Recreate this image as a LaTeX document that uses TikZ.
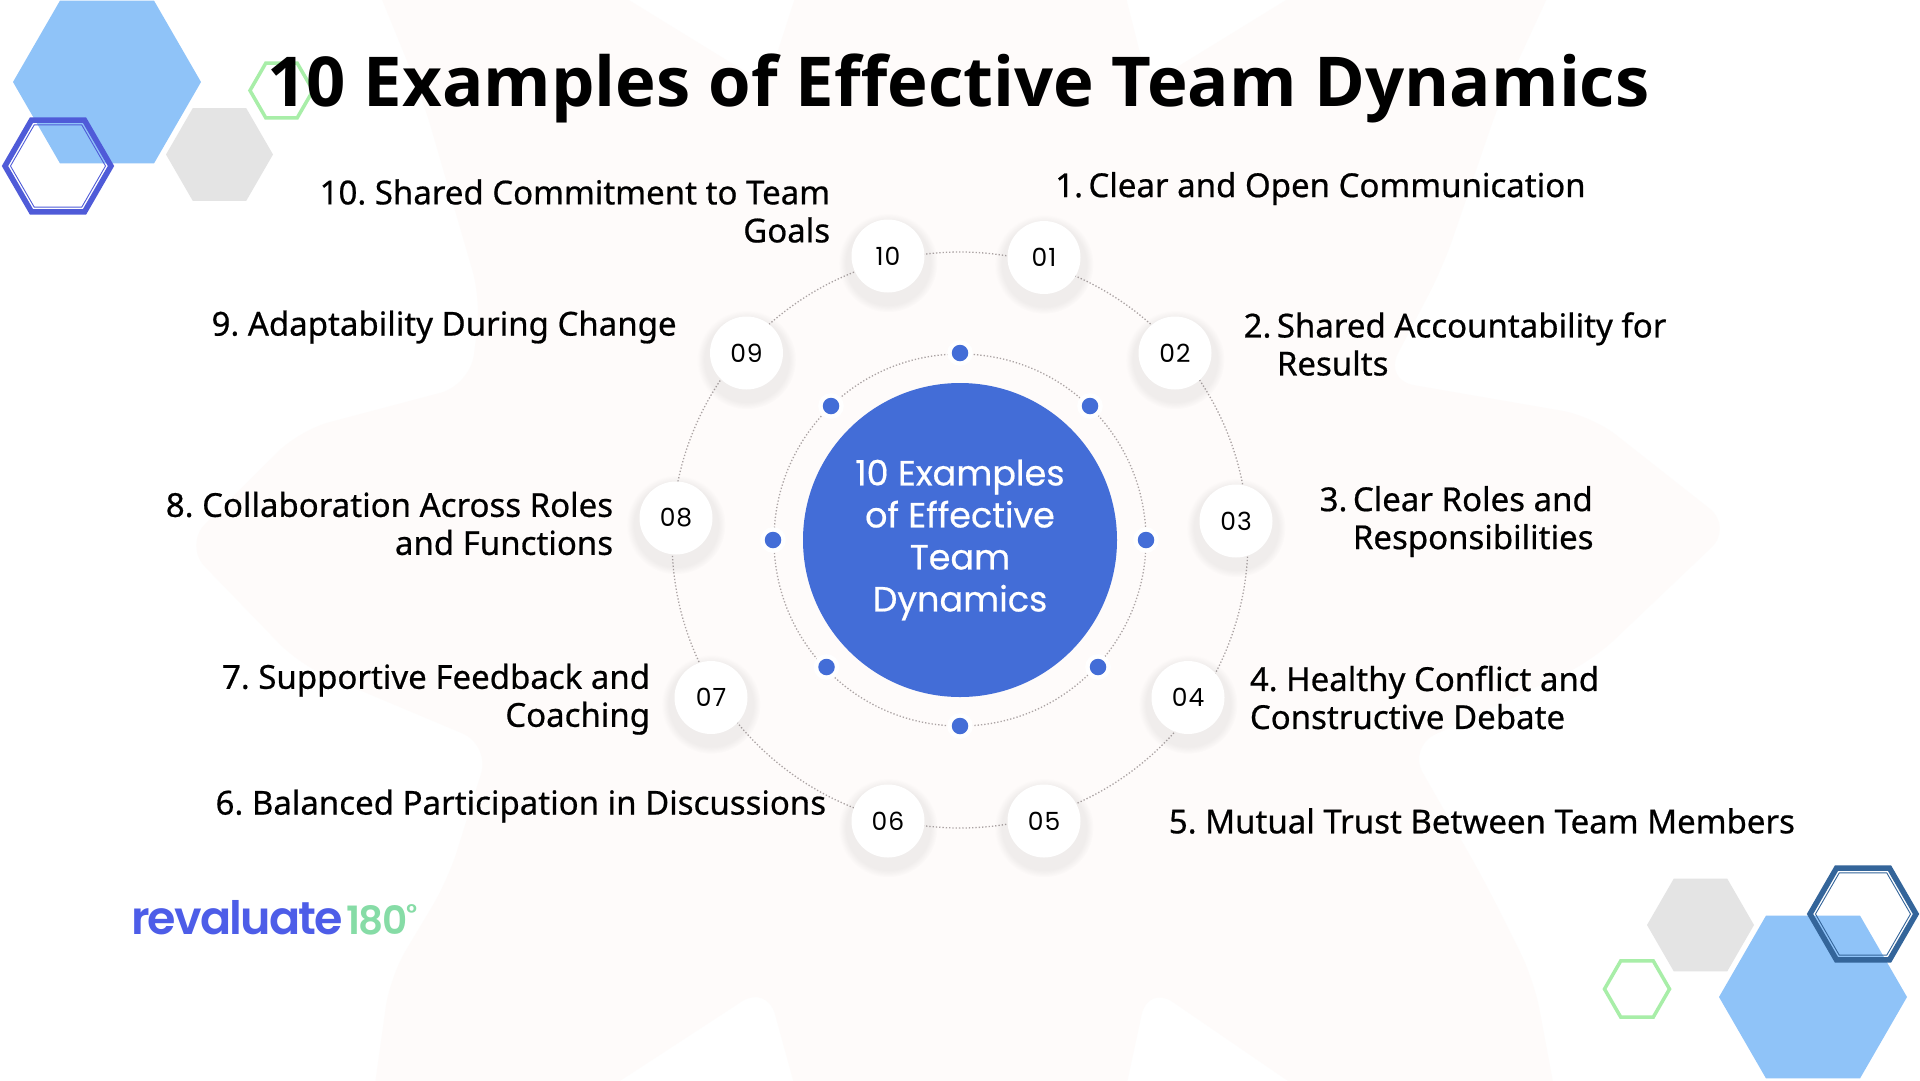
\documentclass[tikz,border=0pt]{standalone}
\usepackage{fontspec}
\setmainfont{Noto Sans}
\newfontfamily\titlefont{Open Sans}
\newfontfamily\lblfont[FakeBold=0.6]{Noto Sans}
\newfontfamily\hubfont[FakeBold=0.5]{Poppins}
\newfontfamily\numfont[LetterSpace=4]{Poppins}
\newfontfamily\logofont[LetterSpace=-4]{Poppins SemiBold}
\usepackage{tikz}
\definecolor{hubblue}{HTML}{436DD7}
\definecolor{hexblue}{HTML}{8FC3F8}
\definecolor{hexgrey}{HTML}{E4E4E4}
\definecolor{hexgreen}{HTML}{A8EEA8}
\definecolor{hexindigo}{HTML}{4F5BD8}
\definecolor{hexsteel}{HTML}{34659A}
\definecolor{blobpink}{HTML}{FEFBFA}
\definecolor{logoblue}{HTML}{4D5DE8}
\definecolor{logogreen}{HTML}{86DCA6}
\definecolor{ringgrey}{HTML}{ABA3A3}
\tikzset{
    hexa/.style={regular polygon, regular polygon sides=6, inner sep=0pt},
    hexfill/.style={hexa, fill=#1},
    hexline/.style={hexa, draw=#1, line width=3.5pt},
    hexthick/.style={hexa, draw=#1, line width=5.5pt},
    hexthin/.style={hexa, draw=#1, line width=0.9pt},
    hub/.style={circle, fill=hubblue, text=white, minimum size=314pt, inner sep=0pt, align=center, font=\hubfont\fontsize{35}{42}\selectfont},
    num/.style={circle, fill=white, minimum size=73pt, inner sep=0pt, font=\numfont\fontsize{25}{26}\selectfont, circular drop shadow={shadow scale=1.36, shadow xshift=0pt, shadow yshift=-5pt, fill=black, opacity=0.055}},
    bead/.style={circle, fill=hubblue, preaction={draw=white, line width=9pt}, minimum size=16.5pt, inner sep=0pt},
    lblleft/.style={inner sep=0pt, align=right, font=\lblfont\frenchspacing\fontsize{33}{38}\selectfont},
    lblright/.style={inner sep=0pt, align=left, font=\lblfont\frenchspacing\fontsize{33}{38}\selectfont},
    ring/.style={dash pattern=on 1.3pt off 2pt, line width=1.3pt, draw=ringgrey} }
\usetikzlibrary{calc, positioning, shapes.geometric, shadows}

\begin{document}
\begin{tikzpicture}[x=1pt, y=1pt, node distance=20pt]
			\clip (0,0) rectangle (1920,-1080);
			\fill[white] (0,0) rectangle (1920,-1080);
			% ----
			\fill[blobpink, rounded corners=30pt] (370,30) -- (423,-100) -- (481,-300) -- (470,-385) --
				(300,-430) -- (184,-545) -- (300,-665) -- (490,-745) -- (448,-880) -- (390,-977) -- (370,-1120) --
				(560,-1120) -- (767,-985) -- (804,-1120) -- (1119,-1120) -- (1148,-985) -- (1345,-1120) -- (1560,-1120) --
				(1534,-980) -- (1484,-880) -- (1408,-747) -- (1592,-661) -- (1733,-527) -- (1592,-416) -- (1384,-380) --
				(1443,-267) -- (1500,-100) -- (1560,30) -- (1335,30) -- (1148,-85) -- (1119,30) -- (804,30) -- (767,-85) -- (580,30) -- cycle;
			% ----
			\node[hexfill=hexblue, minimum size=188pt] (hbl) at (107,-82) {};
			\node[hexfill=hexgrey, minimum size=107pt] (hgl) at (219.5,-154.5) {};
			\node[hexline=hexgreen, minimum size=63pt] (htl) at (281.5,-90.5) {};
			\node[hexthick=hexindigo, minimum size=106pt] (hil) at (58,-166) {};
			\node[hexthin=hexindigo, minimum size=95pt] (hiil) at (58,-166) {};
			\node[hexfill=hexblue, minimum size=188pt] (hbr) at (1813,-997) {};
			\node[hexfill=hexgrey, minimum size=107pt] (hgr) at (1700.5,-925) {};
			\node[hexline=hexgreen, minimum size=65pt] (htr) at (1637,-989) {};
			\node[hexthick=hexsteel, minimum size=106pt] (hsr) at (1863,-914) {};
			\node[hexthin=hexsteel, minimum size=95pt] (hssr) at (1863,-914) {};
			% ----
			\node[anchor=base, font=\titlefont\bfseries\fontsize{68.8}{80}\selectfont] (title) at (958.5,-106) {10 Examples of Effective Team Dynamics};
			% ----
			\node[hub] (center) at (960,-540) {10 Examples\\of Effective\\Team\\Dynamics};
			\draw[ring] (center) circle (186pt);
			\draw[ring] (center) circle (288pt);
			\node[bead] (b1) at (960,-353) {};
			\node[bead] (b2) at (1090,-406) {};
			\node[bead] (b3) at (1146,-540) {};
			\node[bead] (b4) at (1098,-667) {};
			\node[bead] (b5) at (960,-726) {};
			\node[bead] (b6) at (826.5,-667) {};
			\node[bead] (b7) at (773,-540) {};
			\node[bead] (b8) at (831,-406) {};
			% ----
			\node[num] (n01) at (1044,-257.5) {01};
			\node[num] (n02) at (1175,-353) {02};
			\node[num] (n03) at (1236,-521) {03};
			\node[num] (n04) at (1188,-697.5) {04};
			\node[num] (n05) at (1044,-821) {05};
			\node[num] (n06) at (888,-821) {06};
			\node[num] (n07) at (711,-697.5) {07};
			\node[num] (n08) at (676,-518) {08};
			\node[num] (n09) at (746.5,-353) {09};
			\node[num] (n10) at (888,-256) {10};
			% ----
			\node[lblright, right=7.6pt of n01, yshift=69pt] (l01) {\llap{1.\,}Clear and Open Communication};
			\node[lblright, right=65pt of n02, yshift=9pt] (l02) {\llap{2.\,}Shared Accountability for\\Results};
			\node[lblright, right=80pt of n03, yshift=-0.5pt] (l03) {\llap{3.\,}Clear Roles and\\Responsibilities};
			\node[lblright, right=25pt of n04] (l04) {4. Healthy Conflict and\\Constructive Debate};
			\node[lblright, right=88pt of n05] (l05) {5. Mutual Trust Between Team Members};
			\node[lblleft, left=25pt of n06, yshift=15pt] (l06) {6. Balanced Participation in Discussions};
			\node[lblleft, left=24pt of n07, yshift=-1.7pt] (l07) {7. Supportive Feedback and\\Coaching};
			\node[lblleft, left=26pt of n08, yshift=-5.5pt] (l08) {8. Collaboration Across Roles\\and Functions};
			\node[lblleft, left=33pt of n09, yshift=26pt] (l09) {9. Adaptability During Change};
			\node[lblleft, left=21pt of n10, yshift=45pt] (l10) {10. Shared Commitment to Team\\Goals};
			% ----
			\node[anchor=base west, inner sep=0pt, text=logoblue, font=\logofont\fontsize{46}{50}\selectfont] (logo) at (131,-934) {revaluate};
			\node[anchor=base west, inner sep=0pt, text=logogreen, font=\logofont\fontsize{39}{40}\selectfont] (logon) at (346,-934) {180\kern-1pt\raisebox{13pt}{\fontsize{24}{24}\selectfont\textdegree}};
		\end{tikzpicture}
\end{document}
